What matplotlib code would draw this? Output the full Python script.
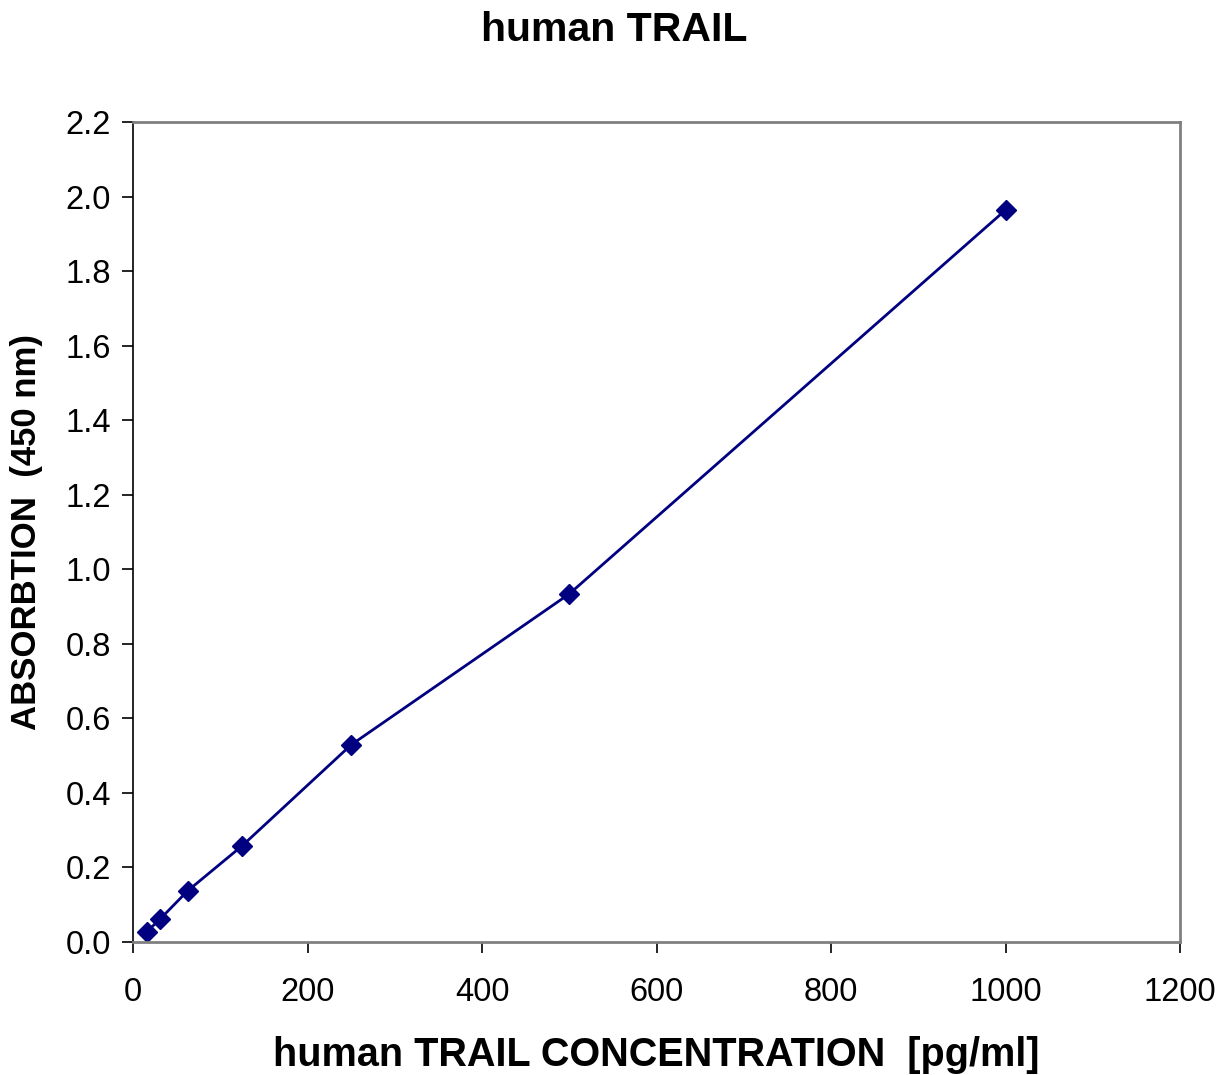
import matplotlib
matplotlib.use("Agg")
import matplotlib.pyplot as plt

conc = [15.6, 31.25, 62.5, 125, 250, 500, 1000]
absorb = [0.027, 0.062, 0.137, 0.258, 0.529, 0.934, 1.964]
xticks = [0, 200, 400, 600, 800, 1000, 1200]
yticks = [0.0, 0.2, 0.4, 0.6, 0.8, 1.0, 1.2, 1.4, 1.6, 1.8, 2.0, 2.2]

plt.rcParams['font.family'] = ['Liberation Sans', 'DejaVu Sans']
fig = plt.figure(figsize=(12.28, 10.75), dpi=100)
ax = fig.add_axes([0.1083, 0.1237, 0.961 - 0.1083, 0.8865 - 0.1237])
navy = '#000080'
ax.plot(conc, absorb, color=navy, lw=2.0, marker='D', ms=10, mfc=navy, mec=navy)
ax.set_xlim(0, 1200)
ax.set_ylim(0, 2.2)
ax.set_xticks(xticks)
ax.set_yticks(yticks)
ax.set_yticklabels([f"{v:.1f}" for v in yticks])
ax.tick_params(direction='out', length=8, width=1.2, labelsize=23.5, pad=8)
ax.tick_params(axis='x', pad=17)
for s in ['top', 'right', 'bottom']:
    ax.spines[s].set_color('#808080')
    ax.spines[s].set_linewidth(2)
ax.spines['left'].set_color('black')
ax.spines['left'].set_linewidth(1.2)
ax.set_xlabel('human TRAIL CONCENTRATION  [pg/ml]', fontsize=28.5, fontweight='bold', labelpad=20)
ax.set_ylabel('ABSORBTION  (450 nm)', fontsize=25, fontweight='bold', labelpad=16)
fig.suptitle('human TRAIL', fontsize=29.5, fontweight='bold', y=0.99)
fig.savefig('out.png', dpi=100)
